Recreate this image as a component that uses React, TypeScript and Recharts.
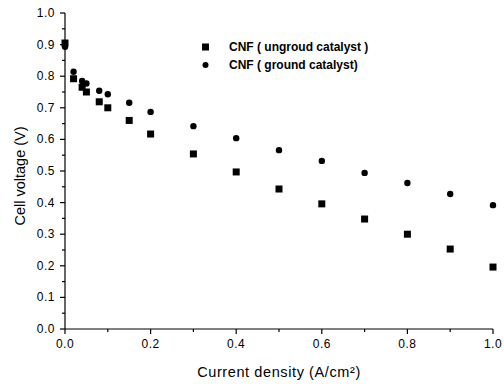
import { ScatterChart, Scatter, XAxis, YAxis } from "recharts"

const currentDensity = [0, 0.02, 0.04, 0.05, 0.08, 0.1, 0.15, 0.2, 0.3, 0.4, 0.5, 0.6, 0.7, 0.8, 0.9, 1.0]
const ungroundVoltage = [0.905, 0.792, 0.765, 0.75, 0.719, 0.7, 0.66, 0.617, 0.554, 0.497, 0.443, 0.396, 0.348, 0.3, 0.253, 0.196]
const groundVoltage = [0.893, 0.814, 0.785, 0.777, 0.754, 0.743, 0.716, 0.687, 0.642, 0.604, 0.566, 0.532, 0.494, 0.462, 0.427, 0.392]
const seriesNames = ["CNF ( ungroud catalyst )", "CNF ( ground catalyst)"]

const xTicks = [0, 0.1, 0.2, 0.3, 0.4, 0.5, 0.6, 0.7, 0.8, 0.9, 1.0]
const xLabelTicks = [0, 0.2, 0.4, 0.6, 0.8, 1.0]
const yTicks = [0, 0.05, 0.1, 0.15, 0.2, 0.25, 0.3, 0.35, 0.4, 0.45, 0.5, 0.55, 0.6, 0.65, 0.7, 0.75, 0.8, 0.85, 0.9, 0.95, 1.0]
const yLabelTicks = [0, 0.1, 0.2, 0.3, 0.4, 0.5, 0.6, 0.7, 0.8, 0.9, 1.0]

const unground = currentDensity.map((x, i) => ({ x, y: ungroundVoltage[i] }))
const ground = currentDensity.map((x, i) => ({ x, y: groundVoltage[i] }))

const font = "'Liberation Sans', Arial, sans-serif"
const isMajor = (v: number, list: number[]) => list.some((t) => Math.abs(t - v) < 1e-6)

function XTick(props: any) {
  const { x, y, payload } = props
  const major = isMajor(payload.value, xLabelTicks)
  return (
    <g>
      <line x1={x} x2={x} y1={y - 8} y2={y - 8 + (major ? 5 : 3)} stroke="#000" strokeWidth={1.2} />
      {major && (
        <text x={x} y={y + 11} textAnchor="middle" fontSize={12} letterSpacing={0.5} fontFamily={font} fill="#000">
          {payload.value.toFixed(1)}
        </text>
      )}
    </g>
  )
}

function YTick(props: any) {
  const { x, y, payload } = props
  const major = isMajor(payload.value, yLabelTicks)
  return (
    <g>
      <line x1={x + 8} x2={x + 8 - (major ? 5 : 3)} y1={y} y2={y} stroke="#000" strokeWidth={1.2} />
      {major && (
        <text x={x - 2} y={y + 4} textAnchor="end" fontSize={12} letterSpacing={0.5} fontFamily={font} fill="#000">
          {payload.value.toFixed(1)}
        </text>
      )}
    </g>
  )
}

const Square = (p: any) => <rect x={p.cx - 3.5} y={p.cy - 3.5} width={7} height={7} fill="#000" />
const Dot = (p: any) => <circle cx={p.cx} cy={p.cy} r={3.2} fill="#000" />

function LegendBox() {
  return (
    <div style={{ position: "absolute", left: 198, top: 38, fontFamily: font, fontSize: 12, fontWeight: "bold", color: "#000" }}>
      {seriesNames.map((name, i) => (
        <div key={i} style={{ display: "flex", alignItems: "center", height: 18 }}>
          <svg width={22} height={10}>
            {i === 0 ? <rect x={4} y={1.5} width={7} height={7} fill="#000" /> : <circle cx={7.5} cy={5} r={3} fill="#000" />}
          </svg>
          <span style={{ marginLeft: 9 }}>{name}</span>
        </div>
      ))}
    </div>
  )
}

export default function App() {
  return (
    <div style={{ position: "absolute", left: 0, top: 0, width: 504, height: 384, background: "#fff" }}>
      <ScatterChart width={504} height={384} margin={{ top: 13, right: 11, bottom: 0, left: 0 }}>
        <XAxis
          type="number"
          dataKey="x"
          domain={[0, 1]}
          ticks={xTicks}
          tick={<XTick />}
          tickLine={false}
          axisLine={{ stroke: "#000", strokeWidth: 1.2 }}
          height={55}
          interval={0}
          label={{
            content: (p: any) => {
              const vb = p.viewBox
              const cx = vb.x + vb.width / 2
              return (
                <text x={cx} y={377} textAnchor="middle" fontSize={14.5} letterSpacing={0.6} fontFamily={font} fill="#000">
                  Current density (A/cm{"\u00b2"})
                </text>
              )
            },
          }}
        />
        <XAxis xAxisId="top" orientation="top" type="number" domain={[0, 1]} tick={false} tickLine={false} height={0} axisLine={{ stroke: "#000", strokeWidth: 1.2 }} />
        <YAxis
          type="number"
          dataKey="y"
          domain={[0, 1]}
          ticks={yTicks}
          tick={<YTick />}
          tickLine={false}
          axisLine={{ stroke: "#000", strokeWidth: 1.2 }}
          width={65}
          interval={0}
          label={{
            content: (p: any) => {
              const vb = p.viewBox
              const cx = 20
              const cy = vb.y + vb.height / 2 + 5
              return (
                <text x={cx} y={cy} transform={`rotate(-90 ${cx} ${cy})`} textAnchor="middle" dominantBaseline="central" fontSize={14.5} fontFamily={font} fill="#000">
                  Cell voltage (V)
                </text>
              )
            },
          }}
        />
        <YAxis yAxisId="right" orientation="right" type="number" domain={[0, 1]} tick={false} tickLine={false} width={0} axisLine={{ stroke: "#000", strokeWidth: 1.2 }} />
        <Scatter name={seriesNames[0]} data={unground} shape={Square} fill="#000" isAnimationActive={false} />
        <Scatter name={seriesNames[1]} data={ground} shape={Dot} fill="#000" isAnimationActive={false} />
      </ScatterChart>
      <LegendBox />
    </div>
  )
}
